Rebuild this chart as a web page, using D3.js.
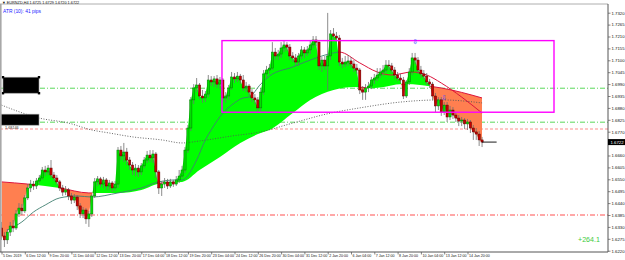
<!DOCTYPE html>
<html>
<head>
<meta charset="utf-8">
<script src="https://cdn.jsdelivr.net/npm/d3@7"></script>
<style>
  html, body { margin: 0; padding: 0; background: #fff; }
  svg { display: block; font-family: "Liberation Sans", Arial, sans-serif; }
</style>
</head>
<body>
<div id="chart"></div>
<script>
// ===============================
// DATA
// ===============================
const headerText = "▼ EURNZD,H4  1.6725 1.6729 1.6720 1.6722";
const atrText = "ATR (10): 41 pips";
const profitText = "+264.1";

const xTickLabels = [
  "5 Dec 2019", "6 Dec 12:00", "9 Dec 20:00", "11 Dec 04:00", "12 Dec 12:00",
  "13 Dec 20:00", "17 Dec 04:00", "18 Dec 12:00", "19 Dec 20:00", "23 Dec 04:00",
  "24 Dec 12:00", "26 Dec 20:00", "30 Dec 04:00", "31 Dec 12:00", "2 Jan 20:00",
  "6 Jan 04:00", "7 Jan 12:00", "8 Jan 20:00", "10 Jan 04:00", "13 Jan 12:00",
  "14 Jan 20:00"
];

const yTickLabels = [
  "1.7320", "1.7265", "1.7210", "1.7155", "1.7100", "1.7045", "1.6990",
  "1.6935", "1.6880", "1.6825", "1.6770", "1.6715", "1.6660", "1.6605",
  "1.6550", "1.6495", "1.6440", "1.6385", "1.6330", "1.6275", "1.6220"
];

// H4 bars: [open, high, low, close]
const bars = [
  [1.6325,1.6353,1.6270,1.6288],[1.6288,1.6306,1.6237,1.6270],[1.6270,1.6320,1.6251,1.6306],
  [1.6306,1.6353,1.6288,1.6334],[1.6334,1.6362,1.6306,1.6325],[1.6325,1.6408,1.6316,1.6390],
  [1.6390,1.6440,1.6376,1.6417],[1.6417,1.6436,1.6385,1.6404],[1.6404,1.6477,1.6394,1.6464],
  [1.6464,1.6528,1.6454,1.6510],[1.6510,1.6547,1.6491,1.6528],[1.6528,1.6542,1.6501,1.6519],
  [1.6519,1.6556,1.6505,1.6542],[1.6542,1.6570,1.6528,1.6556],[1.6556,1.6607,1.6547,1.6593],
  [1.6593,1.6612,1.6565,1.6584],[1.6584,1.6616,1.6570,1.6602],[1.6602,1.6639,1.6556,1.6570],
  [1.6570,1.6584,1.6542,1.6556],[1.6556,1.6570,1.6524,1.6538],[1.6538,1.6547,1.6496,1.6510],
  [1.6510,1.6524,1.6473,1.6491],[1.6491,1.6519,1.6477,1.6501],[1.6501,1.6510,1.6454,1.6473],
  [1.6473,1.6487,1.6436,1.6454],[1.6454,1.6482,1.6440,1.6468],[1.6468,1.6477,1.6408,1.6427],
  [1.6427,1.6440,1.6371,1.6390],[1.6390,1.6422,1.6371,1.6408],[1.6408,1.6417,1.6344,1.6367],
  [1.6367,1.6404,1.6330,1.6390],[1.6390,1.6482,1.6376,1.6473],[1.6473,1.6556,1.6464,1.6538],
  [1.6538,1.6565,1.6519,1.6552],[1.6552,1.6561,1.6515,1.6528],[1.6528,1.6561,1.6510,1.6547],
  [1.6547,1.6556,1.6501,1.6519],[1.6519,1.6547,1.6501,1.6533],[1.6533,1.6542,1.6491,1.6510],
  [1.6510,1.6542,1.6496,1.6528],[1.6528,1.6699,1.6510,1.6685],[1.6685,1.6704,1.6639,1.6658],
  [1.6658,1.6718,1.6630,1.6676],[1.6676,1.6695,1.6616,1.6639],[1.6639,1.6653,1.6593,1.6616],
  [1.6616,1.6630,1.6570,1.6593],[1.6593,1.6621,1.6565,1.6602],[1.6602,1.6616,1.6561,1.6584],
  [1.6584,1.6625,1.6570,1.6612],[1.6612,1.6653,1.6602,1.6639],[1.6639,1.6681,1.6625,1.6662],
  [1.6662,1.6685,1.6630,1.6649],[1.6649,1.6685,1.6625,1.6667],[1.6667,1.6676,1.6556,1.6584],
  [1.6584,1.6593,1.6482,1.6510],[1.6510,1.6542,1.6473,1.6528],[1.6528,1.6556,1.6510,1.6538],
  [1.6538,1.6552,1.6505,1.6519],[1.6519,1.6552,1.6510,1.6538],[1.6538,1.6547,1.6515,1.6528],
  [1.6528,1.6565,1.6519,1.6547],[1.6547,1.6593,1.6533,1.6565],[1.6565,1.6612,1.6556,1.6593],
  [1.6593,1.6699,1.6579,1.6685],[1.6685,1.6801,1.6672,1.6787],[1.6787,1.6930,1.6773,1.6917],
  [1.6917,1.6990,1.6898,1.6972],[1.6972,1.7018,1.6953,1.6986],[1.6986,1.6995,1.6921,1.6935],
  [1.6935,1.6963,1.6903,1.6926],[1.6926,1.6958,1.6907,1.6944],[1.6944,1.7032,1.6930,1.7009],
  [1.7009,1.7027,1.6981,1.7000],[1.7000,1.7027,1.6977,1.7014],[1.7014,1.7032,1.6972,1.6990],
  [1.6990,1.7023,1.6967,1.7009],[1.7009,1.7018,1.6907,1.6926],[1.6926,1.6953,1.6903,1.6935],
  [1.6935,1.6986,1.6917,1.6972],[1.6972,1.7046,1.6963,1.7023],[1.7023,1.7041,1.6995,1.7014],
  [1.7014,1.7046,1.7000,1.7027],[1.7027,1.7037,1.6990,1.7009],[1.7009,1.7032,1.6958,1.6972],
  [1.6972,1.7000,1.6953,1.6981],[1.6981,1.6990,1.6935,1.6953],[1.6953,1.6967,1.6907,1.6926],
  [1.6926,1.6944,1.6898,1.6917],[1.6917,1.6930,1.6861,1.6880],[1.6880,1.6972,1.6866,1.6953],
  [1.6953,1.7055,1.6940,1.7037],[1.7037,1.7074,1.7018,1.7055],[1.7055,1.7083,1.7037,1.7064],
  [1.7064,1.7184,1.7055,1.7138],[1.7138,1.7157,1.7101,1.7120],[1.7120,1.7148,1.7101,1.7129],
  [1.7129,1.7184,1.7111,1.7157],[1.7157,1.7189,1.7138,1.7171],[1.7171,1.7184,1.7143,1.7161],
  [1.7161,1.7175,1.7101,1.7120],[1.7120,1.7138,1.7092,1.7111],[1.7111,1.7129,1.7074,1.7092],
  [1.7092,1.7134,1.7074,1.7120],[1.7120,1.7166,1.7106,1.7148],[1.7148,1.7161,1.7111,1.7134],
  [1.7134,1.7166,1.7120,1.7148],[1.7148,1.7189,1.7129,1.7171],[1.7171,1.7212,1.7157,1.7194],
  [1.7194,1.7212,1.7166,1.7184],[1.7184,1.7194,1.7055,1.7074],[1.7074,1.7115,1.7046,1.7101],
  [1.7101,1.7120,1.7055,1.7074],[1.7074,1.7319,1.6963,1.7120],[1.7120,1.7240,1.7101,1.7222],
  [1.7222,1.7249,1.7194,1.7212],[1.7212,1.7231,1.7184,1.7203],[1.7203,1.7217,1.7074,1.7092],
  [1.7092,1.7111,1.7064,1.7083],[1.7083,1.7120,1.7069,1.7092],[1.7092,1.7124,1.7074,1.7097],
  [1.7097,1.7115,1.7064,1.7083],[1.7083,1.7101,1.7046,1.7064],[1.7064,1.7083,1.7037,1.7055],
  [1.7055,1.7064,1.6944,1.6963],[1.6963,1.6981,1.6917,1.6953],[1.6953,1.6990,1.6917,1.6972],
  [1.6972,1.7000,1.6953,1.6981],[1.6981,1.7023,1.6967,1.7009],[1.7009,1.7037,1.6990,1.7018],
  [1.7018,1.7064,1.7004,1.7032],[1.7032,1.7064,1.7018,1.7046],[1.7046,1.7078,1.7027,1.7055],
  [1.7055,1.7101,1.7041,1.7078],[1.7078,1.7101,1.7055,1.7074],[1.7074,1.7088,1.7041,1.7055],
  [1.7055,1.7069,1.7014,1.7032],[1.7032,1.7046,1.7004,1.7018],[1.7018,1.7037,1.6995,1.7009],
  [1.7009,1.7023,1.6921,1.6935],[1.6935,1.7009,1.6926,1.7000],[1.7000,1.7064,1.6986,1.7046],
  [1.7046,1.7134,1.7032,1.7111],[1.7111,1.7134,1.7083,1.7101],[1.7101,1.7115,1.7037,1.7055],
  [1.7055,1.7074,1.7018,1.7037],[1.7037,1.7055,1.7009,1.7027],[1.7027,1.7041,1.6986,1.7000],
  [1.7000,1.7014,1.6972,1.6990],[1.6990,1.7000,1.6917,1.6935],[1.6935,1.6949,1.6861,1.6889],
  [1.6889,1.6930,1.6870,1.6917],[1.6917,1.6930,1.6843,1.6861],[1.6861,1.6907,1.6847,1.6893],
  [1.6893,1.6907,1.6815,1.6838],[1.6838,1.6889,1.6824,1.6870],[1.6870,1.6884,1.6829,1.6847],
  [1.6847,1.6861,1.6815,1.6833],[1.6833,1.6847,1.6796,1.6819],[1.6819,1.6838,1.6796,1.6824],
  [1.6824,1.6833,1.6782,1.6806],[1.6806,1.6829,1.6778,1.6815],[1.6815,1.6824,1.6764,1.6787],
  [1.6787,1.6801,1.6732,1.6769],[1.6769,1.6787,1.6732,1.6759],[1.6759,1.6773,1.6704,1.6732],
  [1.6732,1.6746,1.6699,1.6722]
];

// moving averages: [bar index, price]
const slowMA = [
  [0,1.6538],[9,1.6528],[15,1.6519],[20,1.6510],[30,1.6487],[40,1.6487],[48,1.6501],
  [55,1.6533],[62,1.6538],[68,1.6593],[75,1.6653],[82,1.6718],[89,1.6764],[92,1.6778],
  [100,1.6856],[106,1.6917],[114,1.6963],[121,1.6977],[128,1.6972],[138,1.6990],
  [151,1.6972],[165,1.6926]
];
const midMA = [
  [2,1.6316],[7,1.6353],[11,1.6399],[15,1.6431],[20,1.6464],[26,1.6473],[31,1.6468],
  [40,1.6487],[48,1.6510],[54,1.6538],[60,1.6547],[62,1.6547],[67,1.6639],[70,1.6732],
  [72,1.6778],[76,1.6856],[79,1.6893],[83,1.6926],[85,1.6930],[89,1.6990],[92,1.7027],
  [100,1.7069],[108,1.7111],[114,1.7134],[116,1.7138],[123,1.7088],[129,1.7046],
  [134,1.7032],[141,1.7046],[146,1.7032],[151,1.6995],[158,1.6930],[165,1.6856]
];
const longMA = [
  [0,1.6893],[13,1.6833],[23,1.6810],[31,1.6778],[37,1.6764],[45,1.6746],[55,1.6732],
  [62,1.6718],[68,1.6727],[79,1.6750],[89,1.6769],[99,1.6806],[113,1.6856],[123,1.6880],
  [137,1.6907],[151,1.6917],[165,1.6903]
];

// horizontal levels
const greenLevels = [1.6971, 1.6814];
const pinkLevel = 1.6782;
const redLevel = 1.6385;

// magenta zone: bars and prices
const zoneBars = [75.7, 189.7];
const zonePrices = [1.7191, 1.6860];

// blue down arrows: [bar, price]
const arrowMarks = [[142, 1.7198], [152, 1.6940]];

const lastPrice = 1.6722;
const lastPriceLabel = "1.6722";
const levelTag = "1.68146";

// ===============================
// DIMENSIONS
// ===============================
const W = 625, H = 260;
const frame = { left: 0.5, right: 608, top: 4, bottom: 252 };

const svg = d3.select("#chart")
  .append("svg")
  .attr("width", W)
  .attr("height", H);

const defs = svg.append("defs");

// ===============================
// SCALES
// ===============================
const x = d3.scaleLinear().domain([0, 160]).range([1.5, 467.5]);
const y = d3.scaleLinear().domain([1.6220, 1.7320]).range([250.7, 12.7]);

defs.append("clipPath").attr("id", "plotClip")
  .append("rect")
  .attr("x", frame.left).attr("y", frame.top)
  .attr("width", frame.right - frame.left).attr("height", frame.bottom - frame.top);

const maLine = d3.line().x(d => x(d[0])).y(d => y(d[1])).curve(d3.curveMonotoneX);

defs.append("clipPath").attr("id", "aboveSlow")
  .append("path")
  .attr("d", d3.area().x(d => x(d[0])).curve(d3.curveMonotoneX)
    .y0(0).y1(d => y(d[1]))(slowMA));
defs.append("clipPath").attr("id", "belowSlow")
  .append("path")
  .attr("d", d3.area().x(d => x(d[0])).curve(d3.curveMonotoneX)
    .y0(d => y(d[1])).y1(H)(slowMA));
defs.append("clipPath").attr("id", "aboveClose")
  .append("path")
  .attr("d", d3.area().x((d, i) => x(i)).y0(0).y1(d => y(d[3]))(bars));

const plot = svg.append("g").attr("clip-path", "url(#plotClip)");

// ===============================
// LEVELS
// ===============================
greenLevels.forEach(p => {
  plot.append("line")
    .attr("x1", 0).attr("x2", frame.right)
    .attr("y1", y(p)).attr("y2", y(p))
    .attr("stroke", "#5ad85a")
    .attr("stroke-width", 1)
    .attr("stroke-dasharray", "5 2 1 2");
});

plot.append("line")
  .attr("x1", 0).attr("x2", frame.right)
  .attr("y1", y(pinkLevel)).attr("y2", y(pinkLevel))
  .attr("stroke", "#ffb4b4")
  .attr("stroke-width", 1.5)
  .attr("stroke-dasharray", "3 2");

plot.append("line")
  .attr("x1", 0).attr("x2", frame.right)
  .attr("y1", y(redLevel)).attr("y2", y(redLevel))
  .attr("stroke", "#ff5050")
  .attr("stroke-width", 1)
  .attr("stroke-dasharray", "5 2 1 2");

// ===============================
// CLOUD FILL (close vs slow MA)
// ===============================
plot.append("g").attr("clip-path", "url(#aboveSlow)")
  .append("path")
  .attr("d", d3.area().x((d, i) => x(i)).y0(H).y1(d => y(d[3]))(bars))
  .attr("fill", "#00ff00");

plot.append("g").attr("clip-path", "url(#belowSlow)")
  .append("path")
  .attr("d", d3.area().x((d, i) => x(i)).y0(0).y1(d => y(d[3]))(bars))
  .attr("fill", "#ff7f50");

// ===============================
// MOVING AVERAGES
// ===============================
plot.append("path")
  .datum(longMA)
  .attr("d", maLine)
  .attr("fill", "none")
  .attr("stroke", "#555")
  .attr("stroke-width", 0.9)
  .attr("stroke-dasharray", "1 1.6");

plot.append("g").attr("clip-path", "url(#aboveClose)")
  .append("path")
  .datum(slowMA)
  .attr("d", maLine)
  .attr("fill", "none")
  .attr("stroke", "#dc143c")
  .attr("stroke-width", 1);

// mid MA: teal while rising, crimson after its top
const peakBar = midMA.reduce((a, b) => (b[1] > a[1] ? b : a))[0];
defs.append("clipPath").attr("id", "risePart")
  .append("rect").attr("x", 0).attr("y", 0).attr("width", x(peakBar)).attr("height", H);
defs.append("clipPath").attr("id", "fallPart")
  .append("rect").attr("x", x(peakBar)).attr("y", 0).attr("width", W).attr("height", H);

plot.append("path")
  .datum(midMA)
  .attr("clip-path", "url(#risePart)")
  .attr("d", maLine)
  .attr("fill", "none")
  .attr("stroke", "#3f7f6f")
  .attr("stroke-width", 0.9);

plot.append("path")
  .datum(midMA)
  .attr("clip-path", "url(#fallPart)")
  .attr("d", maLine)
  .attr("fill", "none")
  .attr("stroke", "#dc143c")
  .attr("stroke-width", 1);

// ===============================
// CANDLES
// ===============================
const candle = plot.selectAll(".candle")
  .data(bars)
  .join("g")
  .attr("class", "candle");

candle.append("line")
  .attr("x1", (d, i) => x(i)).attr("x2", (d, i) => x(i))
  .attr("y1", d => y(d[1])).attr("y2", d => y(d[2]))
  .attr("stroke", "#6e6e6e")
  .attr("stroke-width", 0.8);

candle.append("rect")
  .attr("x", (d, i) => x(i) - 1.1)
  .attr("width", 2.2)
  .attr("y", d => y(Math.max(d[0], d[3])))
  .attr("height", d => Math.max(0.8, Math.abs(y(d[0]) - y(d[3]))))
  .attr("fill", d => (d[3] >= d[0] ? "#00e000" : "#c80000"))
  .attr("stroke", d => (d[3] >= d[0] ? "#007a00" : "#5a0000"))
  .attr("stroke-width", 0.5);

// ===============================
// OBJECTS
// ===============================
plot.append("rect")
  .attr("x", x(zoneBars[0]))
  .attr("y", y(zonePrices[0]))
  .attr("width", x(zoneBars[1]) - x(zoneBars[0]))
  .attr("height", y(zonePrices[1]) - y(zonePrices[0]))
  .attr("fill", "none")
  .attr("stroke", "#ff00ff")
  .attr("stroke-width", 1.4);

plot.selectAll(".arrow")
  .data(arrowMarks)
  .join("text")
  .attr("class", "arrow")
  .attr("x", d => x(d[0]))
  .attr("y", d => y(d[1]) + 5)
  .attr("text-anchor", "middle")
  .attr("font-family", "DejaVu Sans")
  .attr("font-size", 7)
  .attr("fill", "#2a44ff")
  .text("⇩");

// current price line
plot.append("line")
  .attr("x1", x(bars.length - 1)).attr("x2", x(bars.length + 4))
  .attr("y1", y(lastPrice)).attr("y2", y(lastPrice))
  .attr("stroke", "#000")
  .attr("stroke-width", 0.9);

// left black tags on the green levels
const tagBoxes = [
  { p: greenLevels[0], x0: 3, x1: 39, up: 11, down: 5 },
  { p: greenLevels[1], x0: 1, x1: 39, up: 8, down: 3 }
];
tagBoxes.forEach((t, k) => {
  plot.append("rect")
    .attr("x", t.x0).attr("y", y(t.p) - t.up)
    .attr("width", t.x1 - t.x0).attr("height", t.up + t.down)
    .attr("fill", "#000")
    .attr("stroke", "#9a9a9a")
    .attr("stroke-width", 0.6);
  if (k === 0) {
    [[t.x0, y(t.p) - t.up], [t.x1, y(t.p) - t.up], [t.x0, y(t.p) + t.down], [t.x1, y(t.p) + t.down]]
      .forEach(c => plot.append("rect")
        .attr("x", c[0] - 1.2).attr("y", c[1] - 1.2)
        .attr("width", 2.4).attr("height", 2.4)
        .attr("fill", "#000"));
  }
});

plot.append("text")
  .attr("x", 5)
  .attr("y", y(greenLevels[1]) + 7)
  .attr("font-size", 3.8)
  .attr("fill", "#333")
  .text(levelTag);

// ===============================
// FRAME + AXES
// ===============================
svg.append("line")
  .attr("x1", 0).attr("x2", frame.right).attr("y1", frame.top).attr("y2", frame.top)
  .attr("stroke", "#9a9a9a").attr("stroke-width", 0.8);
svg.append("line")
  .attr("x1", 0.8).attr("x2", 0.8).attr("y1", frame.top).attr("y2", frame.bottom)
  .attr("stroke", "#a8a8a8").attr("stroke-width", 1.6);

const yAxis = svg.append("g")
  .attr("transform", `translate(${frame.right},0)`)
  .call(d3.axisRight(y)
    .tickValues(yTickLabels.map(Number))
    .tickFormat((d, i) => yTickLabels[i])
    .tickSize(2.5)
    .tickPadding(1));
yAxis.select(".domain").remove();
yAxis.selectAll(".tick line").attr("stroke", "#333").attr("stroke-width", 0.6);
yAxis.selectAll(".tick text")
  .attr("font-size", 4.3)
  .attr("font-family", "Liberation Sans, Arial, sans-serif")
  .attr("fill", "#111");
// the price tag covers the nearest tick label
yAxis.selectAll(".tick")
  .filter(d => Math.abs(y(d) - y(lastPrice)) < 6)
  .select("text")
  .remove();

svg.append("line")
  .attr("x1", frame.right).attr("x2", frame.right)
  .attr("y1", frame.top).attr("y2", frame.bottom)
  .attr("stroke", "#555").attr("stroke-width", 1);

const xAxis = svg.append("g")
  .attr("transform", `translate(0,${frame.bottom})`)
  .call(d3.axisBottom(x)
    .tickValues(xTickLabels.map((d, i) => i * 8))
    .tickFormat((d, i) => xTickLabels[i])
    .tickSize(2.5));
xAxis.select(".domain").remove();
xAxis.selectAll(".tick line").attr("stroke", "#333").attr("stroke-width", 0.6);
xAxis.selectAll(".tick text")
  .attr("text-anchor", "start")
  .attr("x", 1)
  .attr("y", 2)
  .attr("dy", "0.71em")
  .attr("font-size", 3.6)
  .attr("font-family", "Liberation Sans, Arial, sans-serif")
  .attr("fill", "#111");

svg.append("line")
  .attr("x1", 0).attr("x2", frame.right)
  .attr("y1", frame.bottom).attr("y2", frame.bottom)
  .attr("stroke", "#555").attr("stroke-width", 1);

// current price tag
svg.append("rect")
  .attr("x", frame.right).attr("y", y(lastPrice) - 3)
  .attr("width", 17).attr("height", 6)
  .attr("fill", "#000");
svg.append("text")
  .attr("x", frame.right + 2.5).attr("y", y(lastPrice) + 1.6)
  .attr("font-size", 4.3)
  .attr("fill", "#fff")
  .text(lastPriceLabel);

// ===============================
// TEXTS
// ===============================
svg.append("text")
  .attr("x", 2).attr("y", 3.6)
  .attr("font-size", 3.8)
  .attr("fill", "#111")
  .text(headerText);

svg.append("text")
  .attr("x", 3).attr("y", 12.6)
  .attr("font-size", 4.9)
  .attr("fill", "#1a1aff")
  .text(atrText);

svg.append("text")
  .attr("x", 578).attr("y", 242)
  .attr("font-size", 7.1)
  .attr("fill", "#3ccb3c")
  .text(profitText);
</script>
</body>
</html>
